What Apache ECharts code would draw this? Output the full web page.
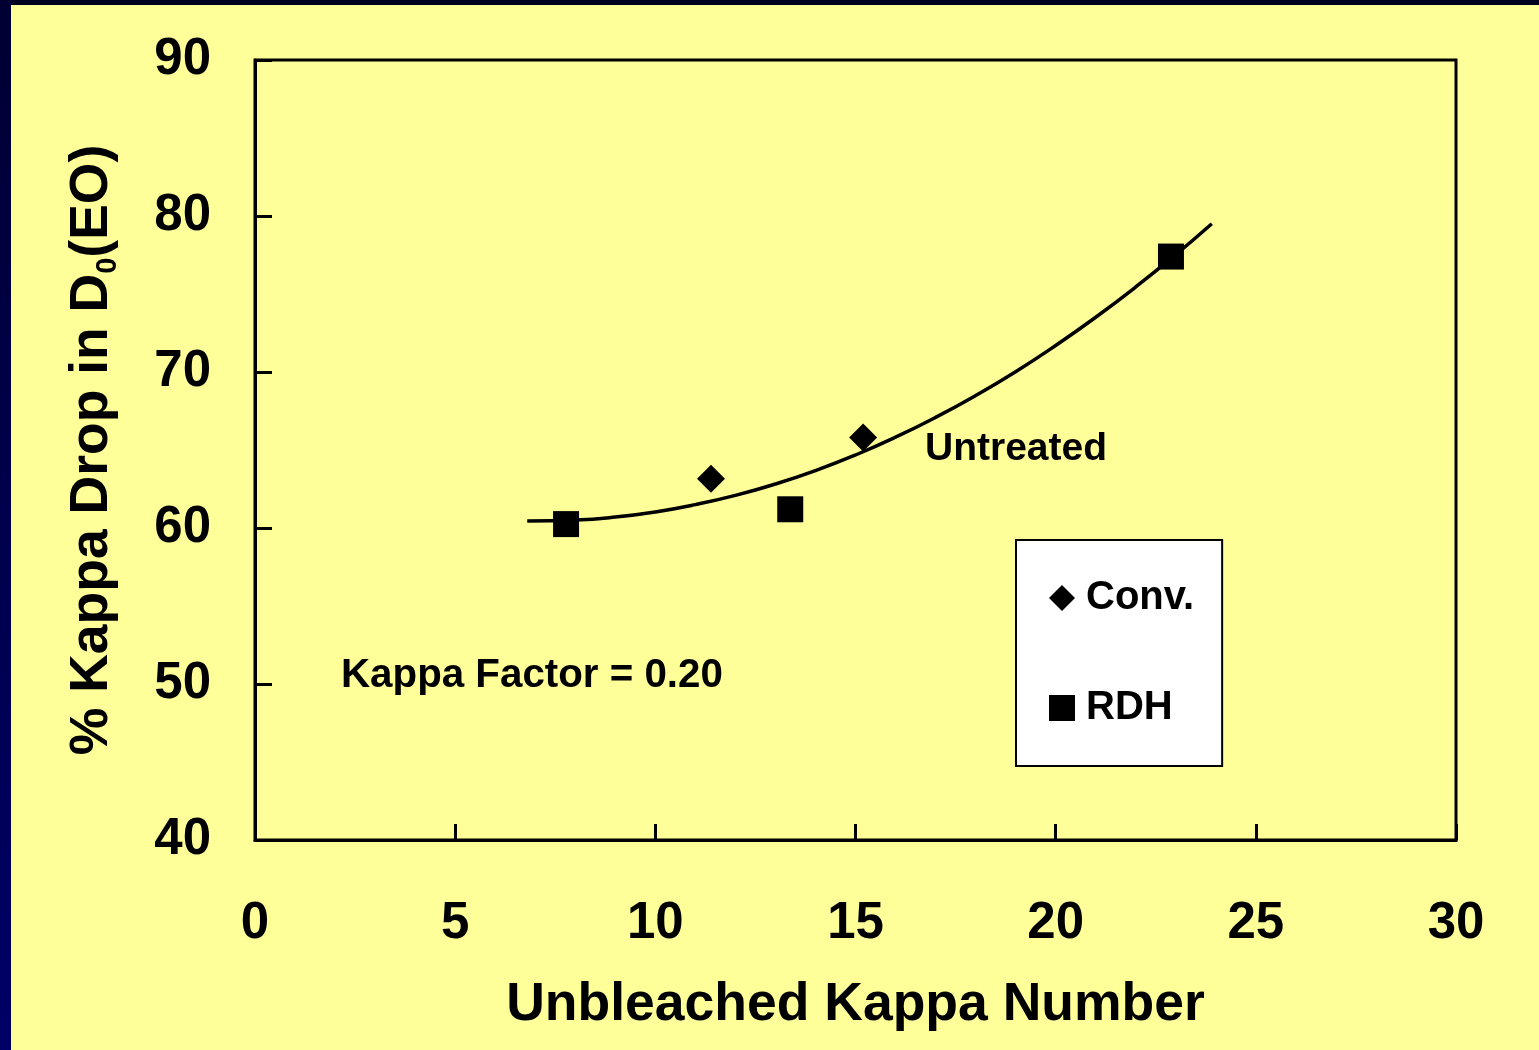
<!DOCTYPE html>
<html>
<head>
<meta charset="utf-8">
<script src="https://cdn.jsdelivr.net/npm/echarts@6/dist/echarts.min.js"></script>
<style>
html,body{margin:0;padding:0;background:#FFFF99;}
#chart{width:1539px;height:1050px;}
</style>
</head>
<body>
<div id="chart"></div>
<script>
// Data
const convX = [11.39, 15.19];
const convY = [63.15, 65.8];
const rdhX = [7.77, 13.37, 22.88];
const rdhY = [60.25, 61.2, 77.4];
const curveX = [6.8, 8, 9, 10, 11, 12, 13, 14, 15, 16, 17, 18, 19, 20, 21, 22, 23, 23.9];
const curveY = [60.45, 60.51, 60.70, 61.03, 61.50, 62.09, 62.82, 63.68, 64.68, 65.82, 67.09, 68.49, 70.02, 71.70, 73.51, 75.45, 77.52, 79.50];
const xTicks = [0, 5, 10, 15, 20, 25, 30];
const yTicks = [40, 50, 60, 70, 80, 90];
const seriesNames = ['Conv.', 'RDH'];
const xTitle = 'Unbleached Kappa Number';
const curveLabel = 'Untreated';
const noteLabel = 'Kappa Factor = 0.20';

const FONT = '"Liberation Sans", Arial, sans-serif';
const chart = echarts.init(document.getElementById('chart'), null, {renderer: 'canvas'});

const zip = (xs, ys) => xs.map((x, i) => [x, ys[i]]);

const option = {
  backgroundColor: '#FFFF99',
  animation: false,
  textStyle: {fontFamily: FONT, fontWeight: 'bold', color: '#000'},
  grid: {left: 255, right: 83, top: 60, bottom: 210, show: true, borderColor: '#000', borderWidth: 3, backgroundColor: 'transparent'},
  xAxis: {
    type: 'value', min: xTicks[0], max: xTicks[xTicks.length - 1], interval: 5,
    name: xTitle, nameLocation: 'middle', nameGap: 138,
    nameTextStyle: {fontSize: 53.5, fontWeight: 'bold', fontFamily: FONT, color: '#000'},
    axisLine: {show: true, onZero: false, lineStyle: {color: '#000', width: 3}},
    axisTick: {show: true, inside: true, length: 16, lineStyle: {color: '#000', width: 3}},
    axisLabel: {fontSize: 51, fontWeight: 'bold', fontFamily: FONT, color: '#000', margin: 58},
    splitLine: {show: false}
  },
  yAxis: {
    type: 'value', min: yTicks[0], max: yTicks[yTicks.length - 1], interval: 10,
    name: '{a|% Kappa Drop in D}{s|0}{a|(EO)}', nameLocation: 'middle', nameGap: 133, nameRotate: 90,
    nameTextStyle: {
      fontFamily: FONT, fontWeight: 'bold', color: '#000',
      rich: {
        a: {fontSize: 53.5, fontWeight: 'bold', fontFamily: FONT, color: '#000', lineHeight: 60},
        s: {fontSize: 29, fontWeight: 'bold', fontFamily: FONT, color: '#000', lineHeight: 26, verticalAlign: 'bottom'}
      }
    },
    axisLine: {show: true, onZero: false, lineStyle: {color: '#000', width: 3}},
    axisTick: {show: true, inside: true, length: 17, lineStyle: {color: '#000', width: 3}},
    axisLabel: {fontSize: 51, fontWeight: 'bold', fontFamily: FONT, color: '#000', margin: 44, lineHeight: 58, padding: [6, 0, 0, 0]},
    splitLine: {show: false}
  },
  legend: {
    data: seriesNames,
    orient: 'vertical',
    left: 1016, top: 540,
    backgroundColor: '#FFFFFF',
    borderColor: '#000', borderWidth: 2, borderRadius: 0,
    padding: [38, 28, 38, 33],
    itemGap: 70,
    itemWidth: 26, itemHeight: 26,
    textStyle: {fontSize: 40, fontWeight: 'bold', fontFamily: FONT, color: '#000', padding: [0, 0, 0, 6]},
    selectedMode: false
  },
  series: [
    {
      name: 'curve', type: 'line', data: zip(curveX, curveY), smooth: true,
      showSymbol: false, symbol: 'none', lineStyle: {color: '#000', width: 3.5}, z: 2,
      silent: true
    },
    {
      name: seriesNames[0], type: 'scatter', data: zip(convX, convY),
      symbol: 'diamond', symbolSize: 28, itemStyle: {color: '#000', opacity: 1}, z: 3
    },
    {
      name: seriesNames[1], type: 'scatter', data: zip(rdhX, rdhY),
      symbol: 'rect', symbolSize: 26, itemStyle: {color: '#000', opacity: 1}, z: 3
    }
  ],
  graphic: [
    {type: 'rect', left: 0, top: 0, z: 100, shape: {width: 1539, height: 5},
     style: {fill: '#000022'}},
    {type: 'rect', left: 0, top: 0, z: 100, shape: {width: 11, height: 1050},
     style: {fill: new echarts.graphic.LinearGradient(0, 0, 0, 1, [{offset: 0, color: '#000033'}, {offset: 1, color: '#000066'}])}},
    {type: 'text', left: 925, top: 430, z: 50,
     style: {text: curveLabel, fontSize: 39, fontWeight: 'bold', fontFamily: FONT, fill: '#000'}},
    {type: 'text', left: 341, top: 656, z: 50,
     style: {text: noteLabel, fontSize: 40.3, fontWeight: 'bold', fontFamily: FONT, fill: '#000'}}
  ]
};
chart.setOption(option);
</script>
</body>
</html>
